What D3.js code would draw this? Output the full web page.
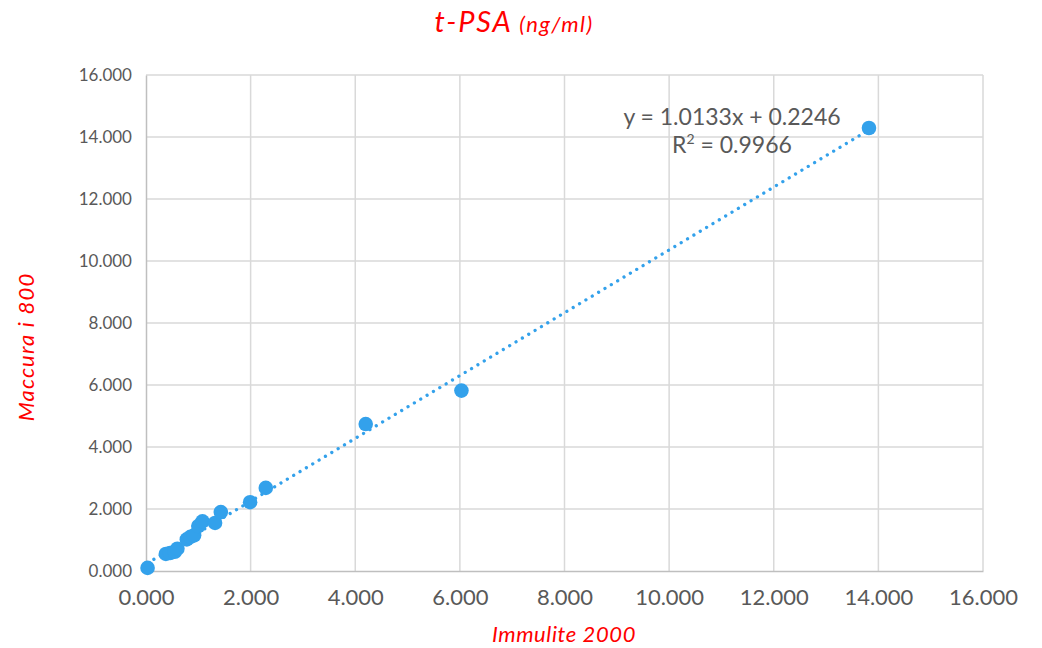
<!DOCTYPE html>
<html>
<head>
<meta charset="utf-8">
<script src="https://cdn.jsdelivr.net/npm/d3@7"></script>
<style>
  html, body { margin: 0; padding: 0; background: #fff; }
  svg { display: block; }
</style>
</head>
<body>
<svg id="chart" width="1042" height="648"></svg>
<script>
// ---- data ----
const immulite = [0.03, 0.38, 0.46, 0.55, 0.60, 0.78, 0.85, 0.92, 1.00, 1.08, 1.32, 1.43, 1.99, 2.29, 4.20, 6.03, 13.82];
const maccura  = [0.10, 0.55, 0.58, 0.62, 0.72, 1.02, 1.10, 1.15, 1.45, 1.60, 1.55, 1.90, 2.22, 2.68, 4.74, 5.82, 14.29];
const xTicks = [0, 2, 4, 6, 8, 10, 12, 14, 16];
const yTicks = [0, 2, 4, 6, 8, 10, 12, 14, 16];
const slope = 1.0133, intercept = 0.2246;
const eqLine1 = "y = 1.0133x + 0.2246";
const r2Value = "0.9966";
const titleMain = "t-PSA";
const titleUnit = "(ng/ml)";
const xTitle = "Immulite 2000";
const yTitle = "Maccura i 800";

const points = immulite.map((v, i) => ({ x: v, y: maccura[i] }));

const svg = d3.select("#chart");
const font = "Lato, 'DejaVu Sans', sans-serif";
const blue = "#33a1eb";
const red = "#ff0000";
const gray = "#595959";

const x = d3.scaleLinear().domain([0, 16]).range([146, 983]);
const y = d3.scaleLinear().domain([0, 16]).range([571, 75]);
const fmt = d3.format(".3f");

// gridlines
svg.append("g").selectAll("line.v").data(xTicks.filter(d => d > 0)).join("line")
  .attr("x1", d => x(d)).attr("x2", d => x(d)).attr("y1", y(0)).attr("y2", y(16))
  .attr("stroke", "#d9d9d9").attr("stroke-width", 1.5);
svg.append("g").selectAll("line.h").data(yTicks.filter(d => d > 0)).join("line")
  .attr("x1", x(0)).attr("x2", x(16)).attr("y1", d => y(d)).attr("y2", d => y(d))
  .attr("stroke", "#d9d9d9").attr("stroke-width", 1.5);

// axes
const xAxis = d3.axisBottom(x).tickValues(xTicks).tickFormat(fmt).tickSize(0).tickPadding(18);
const gx = svg.append("g").attr("transform", `translate(0,${y(0)})`).call(xAxis);
gx.select(".domain").attr("stroke", "#bfbfbf").attr("stroke-width", 1.5);
gx.selectAll("text").attr("font-family", font).attr("font-size", 22).attr("fill", gray)
  .attr("dy", "0.71em");

const yAxis = d3.axisLeft(y).tickValues(yTicks).tickFormat(fmt).tickSize(0).tickPadding(14);
const gy = svg.append("g").attr("transform", `translate(${x(0)},0)`).call(yAxis);
gy.select(".domain").attr("stroke", "#bfbfbf").attr("stroke-width", 1.5);
gy.selectAll("text").attr("font-family", font).attr("font-size", 17).attr("fill", gray);

// trendline
const xMin = d3.min(immulite), xMax = d3.max(immulite);
const trend = [xMin, xMax].map(v => ({ x: v, y: slope * v + intercept }));
svg.append("path")
  .datum(trend)
  .attr("d", d3.line().x(d => x(d.x)).y(d => y(d.y)))
  .attr("fill", "none").attr("stroke", blue).attr("stroke-width", 3.3)
  .attr("stroke-linecap", "round").attr("stroke-dasharray", "0.01 7.4");

// points
svg.append("g").selectAll("circle").data(points).join("circle")
  .attr("cx", d => x(d.x)).attr("cy", d => y(d.y)).attr("r", 7.3)
  .attr("fill", blue);

// equation
const eq = svg.append("text").attr("font-family", font).attr("font-size", 23)
  .attr("fill", gray).attr("text-anchor", "middle");
eq.append("tspan").attr("x", 732).attr("y", 125).text(eqLine1);
const l2 = eq.append("tspan").attr("x", 732).attr("y", 153);
l2.append("tspan").text("R");
l2.append("tspan").attr("font-size", 14).attr("dy", -9).text("2");
l2.append("tspan").attr("dy", 9).text(" = " + r2Value);

// title
const t = svg.append("text").attr("x", 514).attr("y", 32).attr("text-anchor", "middle")
  .attr("font-family", font).attr("font-style", "italic").attr("fill", red);
t.append("tspan").attr("font-size", 29).attr("letter-spacing", 1.8).text(titleMain);
t.append("tspan").attr("font-size", 22).attr("letter-spacing", 1.4).text("  " + titleUnit);

// axis titles
svg.append("text").attr("x", 564).attr("y", 642).attr("text-anchor", "middle")
  .attr("font-family", font).attr("font-style", "italic").attr("font-size", 22)
  .attr("letter-spacing", 0.6).attr("fill", red).text(xTitle);
svg.append("text").attr("transform", "translate(34,347) rotate(-90)").attr("text-anchor", "middle")
  .attr("font-family", font).attr("font-style", "italic").attr("font-size", 22)
  .attr("letter-spacing", 1.2).attr("fill", red).text(yTitle);
</script>
</body>
</html>
